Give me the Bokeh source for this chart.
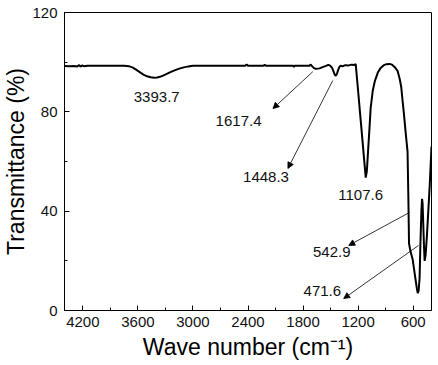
from bokeh.plotting import figure
from bokeh.models import Range1d, SingleIntervalTicker, Arrow, NormalHead, ColumnDataSource
from bokeh.core.properties import value
from bokeh.embed import file_html
from bokeh.resources import INLINE

# ---- spectrum (wavenumber cm^-1, transmittance %) ----
wavenumber = [4400, 4350, 4300, 4260, 4240, 4225, 4210, 4190, 4150, 4050, 3950, 3850, 3750,
              3700, 3660, 3620, 3580, 3540, 3500, 3460, 3420, 3390, 3360, 3320, 3280, 3240,
              3200, 3150, 3100, 3050, 3000, 2900, 2700, 2500, 2430, 2415, 2400, 2300, 2230,
              2218, 2205, 2100, 1950, 1910, 1900, 1890, 1800, 1730, 1716, 1700, 1680, 1660,
              1640, 1620, 1600, 1580, 1550, 1525, 1505, 1485, 1468, 1455, 1443, 1430, 1418,
              1405, 1390, 1370, 1340, 1300, 1270, 1240, 1226, 1200, 1175, 1150, 1130, 1117,
              1105, 1090, 1075, 1063, 1040, 1020, 1009, 985, 954, 920, 890, 857, 830, 800,
              770, 745, 730, 715, 700, 680, 661, 652, 645, 630, 605, 580, 560, 550, 540, 530,
              520, 510, 503, 497, 490, 482, 475, 465, 450, 435, 420, 410, 400]
transmittance = [98.5, 98.4, 98.5, 98.3, 98.8, 98.2, 98.7, 98.4, 98.6, 98.6, 98.6, 98.6, 98.6,
                 98.4, 97.9, 97.0, 96.0, 95.0, 94.3, 93.9, 93.7, 93.8, 94.1, 94.7, 95.4, 96.1,
                 96.7, 97.4, 97.9, 98.3, 98.6, 98.6, 98.6, 98.6, 98.6, 99.0, 98.6, 98.6, 98.6,
                 98.9, 98.6, 98.6, 98.6, 98.6, 98.1, 98.6, 98.6, 98.6, 99.0, 98.3, 97.6, 97.3,
                 97.4, 97.5, 97.8, 98.1, 98.5, 98.9, 98.6, 97.8, 96.3, 95.0, 94.5, 95.3, 96.8,
                 98.0, 98.6, 98.3, 98.8, 98.7, 99.0, 98.9, 99.2, 88.5, 78.0, 67.5, 59.0, 53.5,
                 56.0, 65.0, 74.0, 81.6, 88.5, 92.0, 93.3, 95.8, 97.7, 98.8, 99.2, 99.3, 99.0,
                 98.0, 96.5, 93.0, 90.0, 84.4, 79.0, 71.0, 64.0, 45.0, 27.0, 24.0, 20.5, 14.0,
                 9.0, 7.0, 8.0, 13.0, 28.0, 40.0, 45.0, 43.0, 35.0, 26.0, 20.0, 22.0, 30.0,
                 40.0, 50.0, 58.0, 66.0]

# ---- axes ----
x_start, x_end = 4400, 400
y_start, y_end = 0, 120
x_tick_interval = 600
y_tick_interval = 40
x_title = "Wave number (cm\u207b\u00b9)"
y_title = "Transmittance (%)"

# ---- peak annotations ----
peak_text = ["3393.7", "1617.4", "1448.3", "1107.6", "542.9", "471.6"]
peak_text_x = [3395, 2503, 2204, 1172, 1487, 1590]
peak_text_y = [85.8, 76.5, 53.6, 46.7, 23.4, 8.0]

arrow_x_start = [1693, 1476, 639, 541]
arrow_y_start = [96.2, 92.6, 39.5, 26.2]
arrow_x_end = [2128, 1965, 1302, 1357]
arrow_y_end = [81.3, 57.2, 26.2, 4.8]

FONT = "Liberation Sans"

p = figure(width=438, height=365, output_backend="svg", toolbar_location=None,
           x_range=Range1d(x_start, x_end), y_range=Range1d(y_start, y_end),
           min_border_left=63, min_border_right=7, min_border_top=12, min_border_bottom=55)
p.background_fill_color = "white"
p.border_fill_color = "white"
p.outline_line_color = "black"
p.outline_line_width = 1
p.grid.visible = False

p.xaxis.ticker = SingleIntervalTicker(interval=x_tick_interval, num_minor_ticks=2)
p.yaxis.ticker = SingleIntervalTicker(interval=y_tick_interval, num_minor_ticks=2)
for ax in (p.xaxis, p.yaxis):
    ax.axis_line_color = "black"
    ax.major_tick_line_color = "black"
    ax.minor_tick_line_color = "black"
    ax.major_tick_in = 5
    ax.major_tick_out = 0
    ax.minor_tick_in = 3
    ax.minor_tick_out = 0
    ax.major_label_text_font = FONT
    ax.major_label_text_font_size = "15px"
    ax.major_label_text_color = "#111111"
    ax.axis_label_text_font = FONT
    ax.axis_label_text_font_size = "23px"
    ax.axis_label_text_font_style = "normal"
    ax.axis_label_text_color = "black"
p.xaxis.major_label_standoff = 6
p.yaxis.major_label_standoff = 7
p.xaxis.axis_label = x_title
p.yaxis.axis_label = y_title
p.xaxis.axis_label_standoff = 4
p.yaxis.axis_label_standoff = 0

src = ColumnDataSource(dict(x=wavenumber, y=transmittance))
p.line("x", "y", source=src, line_color="black", line_width=2)

tsrc = ColumnDataSource(dict(x=peak_text_x, y=peak_text_y, t=peak_text))
p.text("x", "y", text="t", source=tsrc, text_font=value(FONT), text_font_size="15px",
       text_color="#111111", text_align="center", text_baseline="middle")

for xs, ys, xe, ye in zip(arrow_x_start, arrow_y_start, arrow_x_end, arrow_y_end):
    p.add_layout(Arrow(x_start=xs, y_start=ys, x_end=xe, y_end=ye, line_color="black",
                       line_width=0.8,
                       end=NormalHead(size=6, fill_color="black", line_color="black", line_width=0.8)))

open("out.html", "w").write(file_html(p, INLINE))
